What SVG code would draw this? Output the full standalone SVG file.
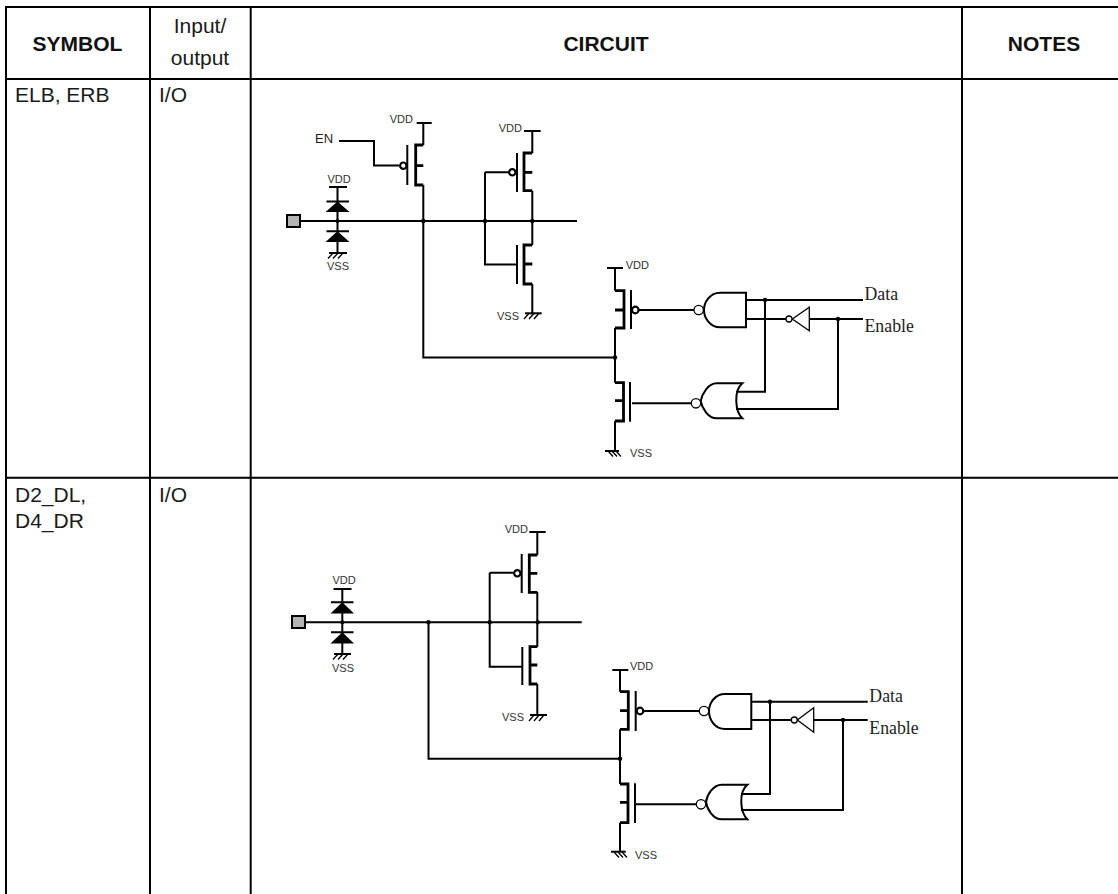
<svg xmlns="http://www.w3.org/2000/svg" width="1118" height="894" viewBox="0 0 1118 894">
<style>
.t{font-family:"Liberation Sans",Arial,sans-serif;fill:#1a1a1a}
.h{font-size:21px;font-weight:bold;text-anchor:middle;fill:#111}
.b{font-size:21px}
.s{font-size:11px;fill:#333}
.en{font-size:13px}
.d{font-family:"Liberation Serif","Times New Roman",serif;font-size:17.8px;fill:#222}
.g{fill:none;stroke:#000;stroke-width:2}
.w{fill:none;stroke:#000;stroke-width:2}
.ch{fill:none;stroke:#000;stroke-width:2.8}
.thin{fill:none;stroke:#000;stroke-width:1.3}
.c{fill:#fff;stroke:#000;stroke-width:1.3}
.cb{fill:#fff;stroke:#000;stroke-width:2.2}
.j{fill:#000}
.tb{fill:none;stroke:#000;stroke-width:2}
</style>
<rect width="1118" height="894" fill="#fff"/>
<g id="table">
<path class="tb" d="M6 7H1118M6 79H1118M6 477.700H1118M6 6V894M150 6V894M250.700 6V894M962 6V894"/>
<text class="t h" x="77.500" y="51">SYMBOL</text>
<text class="t b" x="200" y="33" text-anchor="middle">Input/</text>
<text class="t b" x="200" y="65" text-anchor="middle">output</text>
<text class="t h" x="606" y="51">CIRCUIT</text>
<text class="t h" x="1044" y="51">NOTES</text>
<text class="t b" x="15" y="102">ELB, ERB</text>
<text class="t b" x="159" y="102">I/O</text>
<text class="t b" x="15" y="501.700">D2_DL,</text>
<text class="t b" x="15" y="528.300">D4_DR</text>
<text class="t b" x="159" y="501.700">I/O</text>
</g>
<g id="connectors">
<path class="w" d="M300 221H577M337.500 187V253M423.300 185V357.500H615"/>
<path class="w" d="M339 141H374V165.500H399"/>
<path class="w" d="M485 172.300H508M485 172.300V264.500H517M532.300 191V245M532.300 284V313"/>
<path class="w" d="M639 310H694M632 403.300H691"/>
<path class="w" d="M746 300H863M746 319H786M809 319H863M765 300V391.700H736M838 319V409H736"/>
<path class="w" d="M305 622.300H581.700M342.300 589V654M428.500 622V758.700H620"/>
<path class="w" d="M489.700 572.700H513M489.700 572.700V666.700H522M537.300 592V647M537.300 684V715"/>
<path class="w" d="M644 711H699.300M635 804.300H696.500"/>
<path class="w" d="M751 701.700H867.700M751 720H791M814 720H867.700M770 701.700V794H741M843 720V810H741"/>
<g class="j">
<circle cx="337.500" cy="221" r="2"/><circle cx="423.300" cy="221" r="2.200"/><circle cx="485" cy="221" r="2.200"/><circle cx="532.300" cy="221" r="2.200"/><circle cx="615" cy="357.500" r="2.200"/><circle cx="765" cy="300" r="2.200"/><circle cx="838" cy="319" r="2.200"/>
<circle cx="342.300" cy="622.300" r="2"/><circle cx="428.500" cy="622.300" r="2.200"/><circle cx="489.700" cy="622.300" r="2.200"/><circle cx="537.700" cy="622.300" r="2.200"/><circle cx="620" cy="758.700" r="2.200"/><circle cx="770" cy="701.700" r="2.200"/><circle cx="843" cy="720" r="2.200"/>
</g>
</g>
<g id="c1-pad"><rect x="287" y="215" width="13" height="12" fill="#b3b3b3" stroke="#000" stroke-width="2"/></g>
<g id="c1-diodes">
<path class="w" d="M329 187H347M329 253H347"/>
<path class="thin" d="M328 258.500L333 253M333 258.500L338 253M338 258.500L343 253"/>
<path class="w" d="M326.500 201.500H349M326.500 231.300H349"/>
<path class="j" d="M337.500 201.500L349.500 212H325.500ZM337.500 231.300L349.500 242H325.500Z"/>
<text class="t s" x="339" y="183" text-anchor="middle">VDD</text>
<text class="t s" x="338" y="270" text-anchor="middle">VSS</text>
</g>
<g id="c1-en-pmos">
<path class="w" d="M416.700 123H431.700M423.300 123V145"/>
<path class="ch" d="M423.300 145H415.700V185H423.300M415.700 165.700H423.300"/>
<path class="g" d="M407.300 145V185"/>
<circle class="cb" cx="403.300" cy="165.700" r="3.200"/>
<text class="t en" x="315" y="143">EN</text>
<text class="t s" x="413" y="123" text-anchor="end">VDD</text>
</g>
<g id="c1-inv-pmos">
<path class="w" d="M524 131H540.700M532.300 131V153"/>
<path class="ch" d="M532.300 153H524V190.700H532.300M524 172.300H532.300"/>
<path class="g" d="M517 153V192"/>
<circle class="cb" cx="512.300" cy="172.300" r="3.200"/>
<text class="t s" x="522" y="132" text-anchor="end">VDD</text>
</g>
<g id="c1-inv-nmos">
<path class="ch" d="M532.300 245H524V284H532.300M524 264H532.300"/>
<path class="g" d="M517 245V284"/>
<path class="w" d="M525 313.300H541.700"/>
<path class="thin" d="M524 319L529 313.300M529 319L534 313.300M534 319L539 313.300"/>
<text class="t s" x="519" y="320" text-anchor="end">VSS</text>
</g>
<g id="c1-out-pmos">
<path class="w" d="M607 268H623M615 268V290.700"/>
<path class="ch" d="M615 290.700H624V328H615M615 310H624"/>
<path class="w" d="M615 328V382.700M615 421V451"/>
<path class="g" d="M631 290V329"/>
<circle class="cb" cx="635.300" cy="310" r="3.300"/>
<text class="t s" x="625.700" y="269">VDD</text>
</g>
<g id="c1-out-nmos">
<path class="ch" d="M615 382.700H623.500V421H615M615 400.700H623.500"/>
<path class="g" d="M630 382V421.700"/>
<path class="w" d="M605 451H619"/>
<path class="thin" d="M608 451L613 456.500M612 451L617 456.500M616 451L621 456.500"/>
<text class="t s" x="630" y="457">VSS</text>
</g>
<g id="c1-nand">
<path class="w" d="M720 292.700H746V327.300H720C710 327.300 704 318 704 310C704 302 710 292.700 720 292.700Z" fill="#fff"/>
<circle class="c" cx="698.700" cy="310" r="4.700"/>
</g>
<g id="c1-nor">
<path class="w" d="M742.300 383.300H716.700C708 383.300 702 394 700.700 401C702 408 708 418.300 716.700 418.300H742.300C735 411 733.500 391 742.300 383.300Z"/>
<circle class="c" cx="696" cy="403.300" r="4.700"/>
</g>
<g id="c1-inv">
<path class="c" d="M792.300 319L809.300 307.300V330.700Z"/>
<circle class="c" cx="789" cy="319" r="3"/>
</g>
<g id="c1-labels">
<text class="d" x="864.500" y="300">Data</text>
<text class="d" x="864.500" y="332">Enable</text>
</g>
<g id="c2-pad"><rect x="292" y="616" width="13" height="12" fill="#b3b3b3" stroke="#000" stroke-width="2"/></g>
<g id="c2-diodes">
<path class="w" d="M333.500 589H351.500M334 654H351"/>
<path class="thin" d="M333 659.500L338 654M338 659.500L343 654M343 659.500L348 654"/>
<path class="w" d="M331 602.300H353.500M331 632.300H353.500"/>
<path class="j" d="M342.300 602.300L354 613.500H330.500ZM342.300 632.300L354 643.500H330.500Z"/>
<text class="t s" x="344" y="583.500" text-anchor="middle">VDD</text>
<text class="t s" x="343" y="671.500" text-anchor="middle">VSS</text>
</g>
<g id="c2-inv-pmos">
<path class="w" d="M529.300 532H545.700M537.300 532V555"/>
<path class="ch" d="M537.300 555H529.300V592.300H537.300M529.300 573.300H537.300"/>
<path class="g" d="M521.700 554V593"/>
<circle class="cb" cx="517.300" cy="573.300" r="3.200"/>
<text class="t s" x="528" y="533" text-anchor="end">VDD</text>
</g>
<g id="c2-inv-nmos">
<path class="ch" d="M537.300 646.700H530V684H537.300M530 665H537.300"/>
<path class="g" d="M522.300 647V685"/>
<path class="w" d="M530 715H547"/>
<path class="thin" d="M529 721L534 715M534 721L539 715M539 721L544 715"/>
<text class="t s" x="524" y="721" text-anchor="end">VSS</text>
</g>
<g id="c2-out-pmos">
<path class="w" d="M612.300 670H628.300M620 670V691.700"/>
<path class="ch" d="M620 691.700H628.300V729.300H620M620 710.700H628.300"/>
<path class="w" d="M620 729.300V784M620 822.700V852"/>
<path class="g" d="M635.700 691V731"/>
<circle class="cb" cx="640" cy="711" r="3.300"/>
<text class="t s" x="630" y="669.500">VDD</text>
</g>
<g id="c2-out-nmos">
<path class="ch" d="M620 784H628V822.700H620M620 802.300H628"/>
<path class="g" d="M635 783.300V823"/>
<path class="w" d="M611 851.700H625.700"/>
<path class="thin" d="M614 852L619 857.500M618 852L623 857.500M622 852L627 857.500"/>
<text class="t s" x="635" y="858.500">VSS</text>
</g>
<g id="c2-nand">
<path class="w" d="M725 694H751.300V729H725C715 729 709 720 709 711C709 703 715 694 725 694Z" fill="#fff"/>
<circle class="c" cx="704" cy="711" r="4.700"/>
</g>
<g id="c2-nor">
<path class="w" d="M747.300 784.700H721.700C713 784.700 707 795 706 802C707 809 713 819.300 721.700 819.300H747.300C740 812 738.500 792 747.300 784.700Z"/>
<circle class="c" cx="701" cy="804.300" r="4.700"/>
</g>
<g id="c2-inv">
<path class="c" d="M797.300 720L813.700 707.700V732.300Z"/>
<circle class="c" cx="794.300" cy="720" r="3"/>
</g>
<g id="c2-labels">
<text class="d" x="869.300" y="701.500">Data</text>
<text class="d" x="869.300" y="733.500">Enable</text>
</g>
</svg>
